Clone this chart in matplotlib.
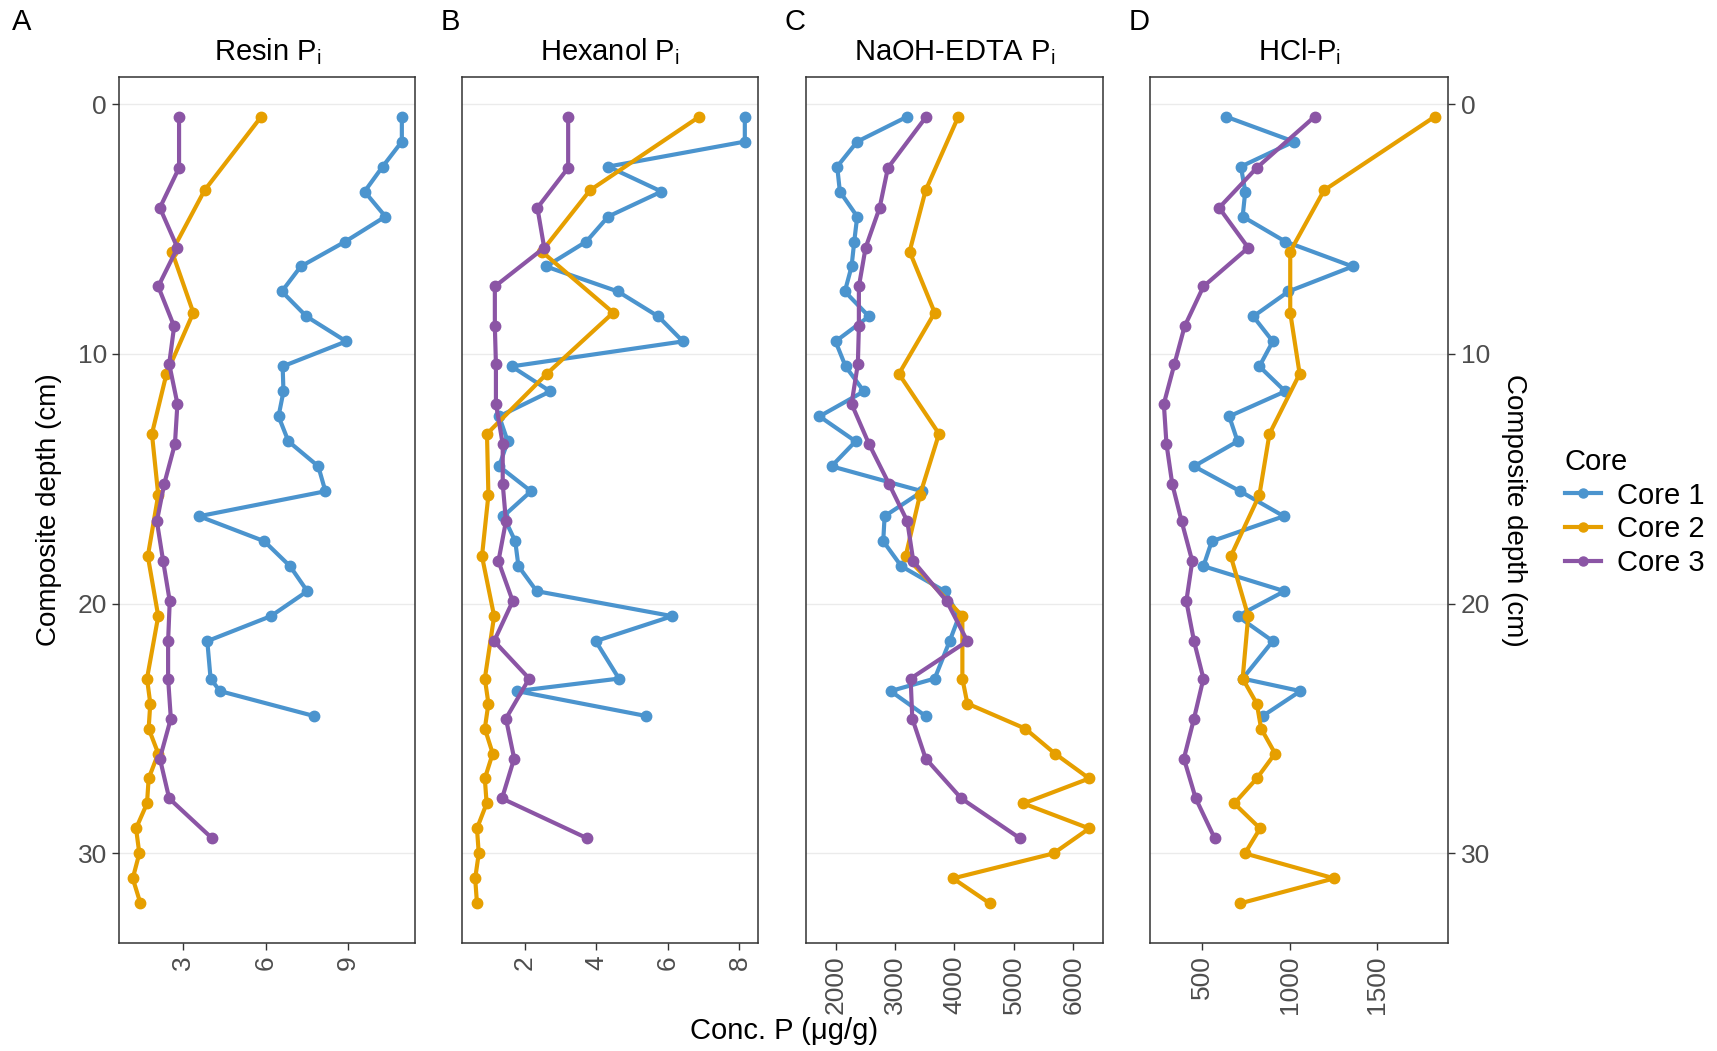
import matplotlib
matplotlib.use("Agg")
import matplotlib.pyplot as plt
from matplotlib.lines import Line2D

plt.rcParams['font.family'] = ['Liberation Sans', 'DejaVu Sans']

# ---------------- data ----------------
cores = ["Core 1", "Core 2", "Core 3"]
colors = ["#4B94CE", "#E69F00", "#8B55A5"]

depth_core1 = [0.5, 1.5, 2.5, 3.5, 4.5, 5.5, 6.5, 7.5, 8.5, 9.5, 10.5, 11.5, 12.5,
               13.5, 14.5, 15.5, 16.5, 17.5, 18.5, 19.5, 20.5, 21.5, 23.0, 23.5, 24.5]
depth_core2 = [0.5, 3.45, 5.9, 8.35, 10.8, 13.2, 15.65, 18.1, 20.5, 23.0, 24.0, 25.0,
               26.0, 27.0, 28.0, 29.0, 30.0, 31.0, 32.0]
depth_core3 = [0.5, 2.55, 4.15, 5.75, 7.3, 8.9, 10.4, 12.0, 13.6, 15.2, 16.7, 18.3,
               19.9, 21.5, 23.0, 24.6, 26.2, 27.8, 29.4]

resin_core1 = [10.97, 10.97, 10.27, 9.61, 10.37, 8.91, 7.28, 6.59, 7.49, 8.94, 6.62, 6.65, 6.47,
               6.83, 7.92, 8.18, 3.57, 5.95, 6.89, 7.52, 6.19, 3.87, 3.99, 4.33, 7.77]
resin_core2 = [5.84, 3.77, 2.58, 3.36, 2.38, 1.85, 2.08, 1.70, 2.08, 1.67, 1.79, 1.73, 2.08,
               1.73, 1.67, 1.27, 1.39, 1.15, 1.43]
resin_core3 = [2.84, 2.84, 2.14, 2.78, 2.08, 2.66, 2.48, 2.78, 2.69, 2.30, 2.03, 2.26, 2.50,
               2.44, 2.44, 2.54, 2.14, 2.48, 4.05]

hexanol_core1 = [8.15, 8.15, 4.33, 5.82, 4.33, 3.72, 2.59, 4.60, 5.73, 6.42, 1.63, 2.71, 1.28,
                 1.52, 1.28, 2.17, 1.40, 1.73, 1.82, 2.33, 6.12, 3.98, 4.63, 1.78, 5.40]
hexanol_core2 = [6.88, 3.82, 2.47, 4.47, 2.61, 0.94, 0.98, 0.80, 1.14, 0.88, 0.98, 0.88, 1.10,
                 0.88, 0.93, 0.66, 0.71, 0.61, 0.66]
hexanol_core3 = [3.21, 3.21, 2.35, 2.54, 1.16, 1.16, 1.19, 1.19, 1.38, 1.38, 1.47, 1.26, 1.66,
                 1.14, 2.12, 1.47, 1.70, 1.36, 3.75]

naoh_core1 = [3208, 2365, 2028, 2073, 2365, 2315, 2270, 2157, 2562, 2000, 2169, 2478, 1730,
              2337, 1933, 3461, 2826, 2803, 3107, 3837, 4080, 3921, 3669, 2927, 3517]
naoh_core2 = [4067, 3517, 3247, 3669, 3067, 3742, 3421, 3180, 4135, 4135, 4219, 5191, 5691,
              6270, 5163, 6270, 5669, 3978, 4596]
naoh_core3 = [3528, 2882, 2742, 2506, 2393, 2393, 2376, 2270, 2562, 2899, 3208, 3309, 3871,
              4219, 3264, 3292, 3517, 4118, 5107]

hcl_core1 = [635, 1025, 721, 746, 731, 975, 1362, 994, 792, 904, 827, 975, 654,
             702, 452, 717, 967, 554, 506, 971, 702, 904, 731, 1062, 846]
hcl_core2 = [1833, 1198, 1004, 1004, 1058, 885, 827, 663, 763, 731, 812, 837, 917,
             812, 683, 831, 744, 1256, 717]
hcl_core3 = [1144, 812, 596, 763, 506, 398, 340, 279, 294, 327, 381, 442, 408,
             452, 506, 452, 394, 462, 571]

panel_letters = ["A", "B", "C", "D"]
panel_titles = [r"Resin P$_\mathregular{i}$", r"Hexanol P$_\mathregular{i}$",
                r"NaOH-EDTA P$_\mathregular{i}$", r"HCl-P$_\mathregular{i}$"]
xticks = [[3, 6, 9], [2, 4, 6, 8], [2000, 3000, 4000, 5000, 6000], [500, 1000, 1500]]
yticks = [0, 10, 20, 30]
xlabel = "Conc. P (\u03bcg/g)"
ylabel = "Composite depth (cm)"

depths = [depth_core1, depth_core2, depth_core3]
panels = [
    [resin_core1, resin_core2, resin_core3],
    [hexanol_core1, hexanol_core2, hexanol_core3],
    [naoh_core1, naoh_core2, naoh_core3],
    [hcl_core1, hcl_core2, hcl_core3],
]

# ---------------- figure ----------------
W, H = 1717, 1051
fig = plt.figure(figsize=(W / 100, H / 100), dpi=100)

lefts_px = [119.3, 461.7, 806.0, 1150.3]
widths_px = [296.0, 296.6, 296.7, 298.0]
top_px, bot_px = 77.3, 942.7

tick_color = "#4D4D4D"
fs_tick = 19
fs_title = 21
fs_axis = 21
fs_leg = 21
LW = 3.0
MS = 7.5

all_depths = depth_core1 + depth_core2 + depth_core3
dmin, dmax = min(all_depths), max(all_depths)
dpad = 0.05 * (dmax - dmin)

for i in range(4):
    ax = fig.add_axes([lefts_px[i] / W, (H - bot_px) / H, widths_px[i] / W, (bot_px - top_px) / H])
    vals_all = []
    for c in range(3):
        ax.plot(panels[i][c], depths[c], color=colors[c], lw=LW, marker="o", ms=MS,
                solid_capstyle="round", solid_joinstyle="round", zorder=3)
        vals_all += panels[i][c]
    vmin, vmax = min(vals_all), max(vals_all)
    pad = 0.05 * (vmax - vmin)
    ax.set_xlim(vmin - pad, vmax + pad)
    ax.set_ylim(dmax + dpad, dmin - dpad)
    ax.set_yticks(yticks)
    ax.set_xticks(xticks[i])
    ax.set_xticklabels([str(t) for t in xticks[i]], rotation=90, fontsize=fs_tick, color=tick_color)
    ax.grid(axis="y", color="#EBEBEB", lw=1.0, zorder=0)
    ax.set_axisbelow(True)
    for s in ax.spines.values():
        s.set_color("#333333")
        s.set_linewidth(1.1)
    ax.tick_params(axis="x", length=5, width=1.0, color="#333333", pad=4)
    if i == 0:
        ax.tick_params(axis="y", length=5, width=1.0, color="#333333", labelsize=fs_tick,
                       labelcolor=tick_color, pad=4)
    elif i == 3:
        ax.yaxis.tick_right()
        ax.tick_params(axis="y", length=5, width=1.0, color="#333333", labelsize=fs_tick,
                       labelcolor=tick_color, pad=4)
    else:
        ax.tick_params(axis="y", length=0, labelleft=False)
    ax.set_title(panel_titles[i], fontsize=fs_title, pad=12)

# panel letters
letter_x = [22, 450, 795, 1139]
for i in range(4):
    fig.text(letter_x[i] / W, 1 - 22 / H, panel_letters[i], fontsize=fs_title, ha="center", va="center")

# axis labels
fig.text((119.3 + 1448.3) / 2 / W, 1 - 1031 / H, xlabel, fontsize=fs_axis, ha="center", va="center")
fig.text(49 / W, 1 - 510 / H, ylabel, fontsize=fs_axis - 1, rotation=90, ha="center", va="center")
fig.text(1514 / W, 1 - 510 / H, ylabel, fontsize=fs_axis - 1, rotation=270, ha="center", va="center")

# legend
handles = [Line2D([0], [0], color=colors[c], lw=LW, marker="o", ms=6.5) for c in range(3)]
leg = fig.legend(handles, cores, title="Core", loc="upper left",
                 bbox_to_anchor=(1553 / W, 1 - 436 / H), frameon=False,
                 fontsize=fs_leg, title_fontsize=fs_leg, handlelength=1.25,
                 handletextpad=0.55, labelspacing=0.2, borderaxespad=0)
leg._legend_box.align = "left"

fig.savefig("out.png", dpi=100)
